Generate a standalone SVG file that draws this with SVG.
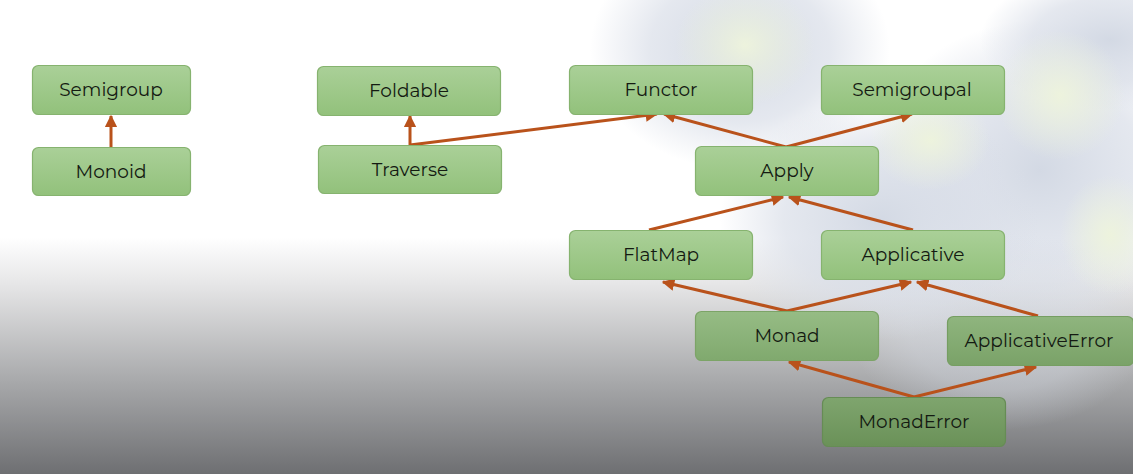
<svg xmlns="http://www.w3.org/2000/svg" width="1133" height="474" viewBox="0 0 1133 474">
<defs>
<linearGradient id="bg" x1="0" y1="0" x2="0" y2="1">
<stop offset="0" stop-color="#ffffff"/>
<stop offset="0.5" stop-color="#ffffff"/>
<stop offset="0.6" stop-color="#e6e6e7"/>
<stop offset="0.8" stop-color="#a9aaac"/>
<stop offset="1" stop-color="#6e6f72"/>
</linearGradient>
<radialGradient id="blue" cx="0.5" cy="0.5" r="0.5">
<stop offset="0" stop-color="#d3d9e4" stop-opacity="1"/>
<stop offset="0.6" stop-color="#d9dee8" stop-opacity="0.7"/>
<stop offset="1" stop-color="#d9dee8" stop-opacity="0"/>
</radialGradient>
<radialGradient id="grn" cx="0.5" cy="0.5" r="0.5">
<stop offset="0" stop-color="#edf3dd" stop-opacity="1"/>
<stop offset="1" stop-color="#edf3dd" stop-opacity="0"/>
</radialGradient>
<linearGradient id="n1" x1="0" y1="0" x2="0" y2="1">
<stop offset="0" stop-color="#aad098"/>
<stop offset="1" stop-color="#92c17b"/>
</linearGradient>
<linearGradient id="n2" x1="0" y1="0" x2="0" y2="1">
<stop offset="0" stop-color="#96bc85"/>
<stop offset="1" stop-color="#80a96e"/>
</linearGradient>
<linearGradient id="n3" x1="0" y1="0" x2="0" y2="1">
<stop offset="0" stop-color="#8fb57e"/>
<stop offset="1" stop-color="#7aa268"/>
</linearGradient>
<linearGradient id="n4" x1="0" y1="0" x2="0" y2="1">
<stop offset="0" stop-color="#7fa56e"/>
<stop offset="1" stop-color="#6a9158"/>
</linearGradient>
<marker id="ah" viewBox="0 0 10 10" refX="9" refY="5" markerWidth="4.2" markerHeight="4.2" orient="auto" markerUnits="strokeWidth">
<path d="M0,0 L10,5 L0,10 Z" fill="#b9521b"/>
</marker>
</defs>
<style>
.box{stroke:#86b36f;stroke-width:1.2}
.lbl{font-family:"Montserrat","Noto Sans","Open Sans",sans-serif;font-size:18.5px;fill:#141a12;text-anchor:middle;dominant-baseline:central}
.edge{fill:none;stroke:#b9521b;stroke-width:3;marker-end:url(#ah)}
</style>
<rect x="0" y="0" width="1133" height="474" fill="url(#bg)"/>
<g id="bg-blur">
<ellipse cx="740" cy="50" rx="150" ry="120" fill="url(#blue)"/>
<ellipse cx="1040" cy="170" rx="170" ry="150" fill="url(#blue)"/>
<ellipse cx="880" cy="220" rx="160" ry="120" fill="url(#blue)"/>
<ellipse cx="1110" cy="40" rx="130" ry="70" fill="url(#blue)"/>
<ellipse cx="1000" cy="330" rx="150" ry="100" fill="url(#blue)" opacity="0.5"/>
<ellipse cx="745" cy="45" rx="70" ry="60" fill="url(#grn)"/>
<ellipse cx="1060" cy="95" rx="65" ry="65" fill="url(#grn)"/>
<ellipse cx="930" cy="140" rx="60" ry="50" fill="url(#grn)"/>
<ellipse cx="1110" cy="235" rx="50" ry="60" fill="url(#grn)"/>
</g>
<g id="connectors">
<path class="edge" d="M111,147 L111,116"/>
<path class="edge" d="M410,145 L410,116"/>
<path class="edge" d="M410,145 L657,114"/>
<path class="edge" d="M786,147 L664,114"/>
<path class="edge" d="M786,147 L912,114"/>
<path class="edge" d="M649,230 L783,197"/>
<path class="edge" d="M913,230 L789,197"/>
<path class="edge" d="M787,311 L663,282"/>
<path class="edge" d="M787,311 L911,282"/>
<path class="edge" d="M1038,316 L917,282"/>
<path class="edge" d="M914,397 L789,362"/>
<path class="edge" d="M914,397 L1036,367"/>
</g>
<g id="Semigroup"><rect class="box" x="32.5" y="65.5" width="158" height="49" rx="6" fill="url(#n1)"/><text class="lbl" x="111" y="89.5">Semigroup</text></g>
<g id="Monoid"><rect class="box" x="32.5" y="147.5" width="158" height="48" rx="6" fill="url(#n1)"/><text class="lbl" x="111" y="171">Monoid</text></g>
<g id="Foldable"><rect class="box" x="317.5" y="66.5" width="183" height="49" rx="6" fill="url(#n1)"/><text class="lbl" x="409" y="90">Foldable</text></g>
<g id="Traverse"><rect class="box" x="318.5" y="145.5" width="183" height="48" rx="6" fill="url(#n1)"/><text class="lbl" x="410" y="169.5">Traverse</text></g>
<g id="Functor"><rect class="box" x="569.5" y="65.5" width="183" height="49" rx="6" fill="url(#n1)"/><text class="lbl" x="661" y="89.5">Functor</text></g>
<g id="Semigroupal"><rect class="box" x="821.5" y="65.5" width="183" height="49" rx="6" fill="url(#n1)"/><text class="lbl" x="912" y="89.5">Semigroupal</text></g>
<g id="Apply"><rect class="box" x="695.5" y="146.5" width="183" height="49" rx="6" fill="url(#n1)"/><text class="lbl" x="787" y="170.5">Apply</text></g>
<g id="FlatMap"><rect class="box" x="569.5" y="230.5" width="183" height="49" rx="6" fill="url(#n1)"/><text class="lbl" x="661" y="254.5">FlatMap</text></g>
<g id="Applicative"><rect class="box" x="821.5" y="230.5" width="183" height="49" rx="6" fill="url(#n1)"/><text class="lbl" x="913" y="254.5">Applicative</text></g>
<g id="Monad"><rect class="box" x="695.5" y="311.5" width="183" height="49" rx="6" fill="url(#n2)" style="stroke:#7ca467"/><text class="lbl" x="787" y="335.5">Monad</text></g>
<g id="ApplicativeError"><rect class="box" x="947.5" y="316.5" width="186" height="49" rx="6" fill="url(#n3)" style="stroke:#769e62"/><text class="lbl" x="1039" y="340.5">ApplicativeError</text></g>
<g id="MonadError"><rect class="box" x="822.5" y="397.5" width="183" height="49" rx="6" fill="url(#n4)" style="stroke:#668c55"/><text class="lbl" x="914" y="421.5">MonadError</text></g>
</svg>
